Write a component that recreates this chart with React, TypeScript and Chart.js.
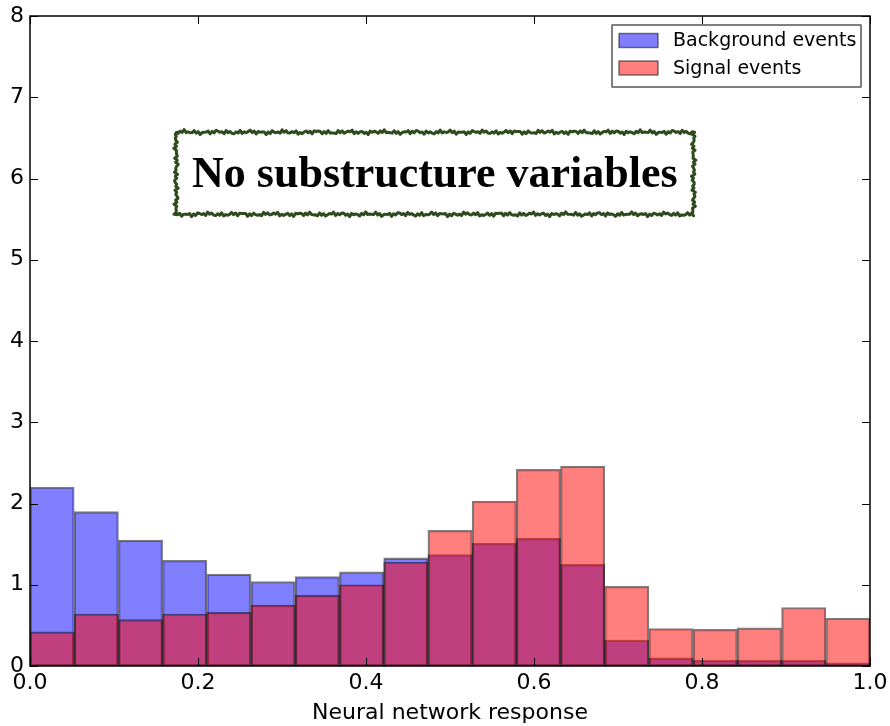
import React, { useEffect, useRef } from "react";
import { Chart, registerables } from "chart.js";

Chart.register(...registerables);

// Histogram: 19 equal bins over [0, 1]
const binCount = 19;
const xMin = 0;
const xMax = 1;
const binCenters = Array.from({ length: binCount }, (_, i) => xMin + ((i + 0.5) * (xMax - xMin)) / binCount);

const backgroundEvents = [2.20, 1.90, 1.55, 1.30, 1.13, 1.04, 1.10, 1.16, 1.33, 1.37, 1.51, 1.57, 1.25, 0.32, 0.10, 0.07, 0.07, 0.07, 0.04];
const signalEvents = [0.42, 0.64, 0.57, 0.64, 0.66, 0.75, 0.87, 1.00, 1.28, 1.67, 2.03, 2.42, 2.46, 0.98, 0.46, 0.45, 0.47, 0.72, 0.59];

const seriesLabels = ["Background events", "Signal events"];
const xTicks = [0, 0.2, 0.4, 0.6, 0.8, 1.0];
const yTicks = [0, 1, 2, 3, 4, 5, 6, 7, 8];
const xTitle = "Neural network response";
const annotationText = "No substructure variables";

const BLUE = "rgba(0,0,255,0.5)";
const RED = "rgba(255,0,0,0.5)";
const EDGE = "rgba(0,0,0,0.5)";
const TICK_FONT = "DejaVu Sans";

const framePlugin = {
  id: "framePlugin",
  afterDraw(chart: any) {
    const ctx = chart.ctx as CanvasRenderingContext2D;
    const { left, right, top, bottom } = chart.chartArea;
    const xs = chart.scales.x;
    const ys = chart.scales.y;
    ctx.save();

    // inward ticks on all four sides
    ctx.strokeStyle = "#000";
    ctx.lineWidth = 1;
    const tl = 8;
    xTicks.forEach((v) => {
      const px = Math.round(xs.getPixelForValue(v)) + 0.5;
      ctx.beginPath();
      ctx.moveTo(px, bottom);
      ctx.lineTo(px, bottom - tl);
      ctx.moveTo(px, top);
      ctx.lineTo(px, top + tl);
      ctx.stroke();
    });
    yTicks.forEach((v) => {
      const py = Math.round(ys.getPixelForValue(v)) + 0.5;
      ctx.beginPath();
      ctx.moveTo(left, py);
      ctx.lineTo(left + tl, py);
      ctx.moveTo(right, py);
      ctx.lineTo(right - tl, py);
      ctx.stroke();
    });

    // spines
    ctx.lineWidth = 1.5;
    ctx.strokeRect(left, top, right - left, bottom - top);

    // annotation box (wobbly border)
    const cx = xs.getPixelForValue(0.482);
    const cy = ys.getPixelForValue(6.03);
    const bx0 = xs.getPixelForValue(0.174);
    const bx1 = xs.getPixelForValue(0.790);
    const by0 = ys.getPixelForValue(6.57);
    const by1 = ys.getPixelForValue(5.56);
    ctx.fillStyle = "#fff";
    ctx.fillRect(bx0, by0, bx1 - bx0, by1 - by0);
    const wob = (i: number) => 1.3 * Math.sin(i * 2.7) + 0.8 * Math.sin(i * 1.13 + 0.5) + 0.5 * Math.sin(i * 5.9);
    ctx.strokeStyle = "#2f4a1c";
    ctx.lineWidth = 3;
    ctx.lineJoin = "round";
    ctx.beginPath();
    let k = 0;
    const step = 2;
    for (let x = bx0; x <= bx1; x += step) { const y = by0 + wob(k++); x === bx0 ? ctx.moveTo(x, y) : ctx.lineTo(x, y); }
    for (let y = by0; y <= by1; y += step) ctx.lineTo(bx1 + wob(k++), y);
    for (let x = bx1; x >= bx0; x -= step) ctx.lineTo(x, by1 + wob(k++));
    for (let y = by1; y >= by0; y -= step) ctx.lineTo(bx0 + wob(k++), y);
    ctx.closePath();
    ctx.stroke();

    ctx.fillStyle = "#000";
    ctx.textAlign = "center";
    ctx.textBaseline = "middle";
    ctx.font = "bold 40px 'Liberation Serif', 'DejaVu Serif', serif";
    const w40 = ctx.measureText(annotationText).width;
    const fs = 40 * (486 / w40);
    ctx.font = `bold ${fs.toFixed(1)}px 'Liberation Serif', 'DejaVu Serif', serif`;
    ctx.fillText(annotationText, cx, cy);

    // legend
    const lx0 = 612, ly0 = 25, lx1 = 861, ly1 = 87;
    ctx.fillStyle = "#fff";
    ctx.fillRect(lx0, ly0, lx1 - lx0, ly1 - ly0);
    ctx.strokeStyle = "#555";
    ctx.lineWidth = 1.5;
    ctx.strokeRect(lx0, ly0, lx1 - lx0, ly1 - ly0);
    const patchColors = [BLUE, RED];
    const rows = [40.5, 68];
    ctx.font = `19px '${TICK_FONT}'`;
    ctx.textAlign = "left";
    seriesLabels.forEach((lab, i) => {
      const ry = rows[i];
      ctx.fillStyle = "#fff";
      ctx.fillRect(619, ry - 7, 39, 14);
      ctx.fillStyle = patchColors[i];
      ctx.fillRect(619, ry - 7, 39, 14);
      ctx.strokeStyle = EDGE;
      ctx.lineWidth = 1.5;
      ctx.strokeRect(619, ry - 7, 39, 14);
      ctx.fillStyle = "#000";
      ctx.textBaseline = "middle";
      ctx.fillText(lab, 673, ry + 1);
    });

    ctx.restore();
  },
};

export default function App() {
  const ref = useRef<HTMLCanvasElement | null>(null);

  useEffect(() => {
    if (!ref.current) return;
    const chart = new Chart(ref.current, {
      type: "bar",
      data: {
        datasets: [
          {
            label: seriesLabels[0],
            data: binCenters.map((x, i) => ({ x, y: backgroundEvents[i] })),
            backgroundColor: BLUE,
            borderColor: EDGE,
            borderWidth: 1.5,
            borderSkipped: false,
            barPercentage: 1,
            categoryPercentage: 1,
            grouped: false,
            order: 1,
          },
          {
            label: seriesLabels[1],
            data: binCenters.map((x, i) => ({ x, y: signalEvents[i] })),
            backgroundColor: RED,
            borderColor: EDGE,
            borderWidth: 1.5,
            borderSkipped: false,
            barPercentage: 1,
            categoryPercentage: 1,
            grouped: false,
            order: 0,
          },
        ],
      } as any,
      options: {
        responsive: false,
        animation: false,
        devicePixelRatio: 1,
        layout: { padding: { left: 8, top: 16, right: 20, bottom: 0 } },
        plugins: { legend: { display: false }, tooltip: { enabled: false } },
        scales: {
          x: {
            type: "linear",
            min: xMin,
            max: xMax,
            offset: false,
            grid: { display: false, drawTicks: false, offset: false },
            border: { display: false },
            afterBuildTicks: (s: any) => { s.ticks = xTicks.map((v) => ({ value: v })); },
            afterFit: (s: any) => { s.paddingLeft = 0; s.paddingRight = 0; s.height = 60; },
            ticks: {
              autoSkip: false,
              maxRotation: 0,
              padding: 4,
              color: "#000",
              font: { family: TICK_FONT, size: 22 },
              callback: (v: any) => Number(v).toFixed(1),
            },
            title: {
              display: true,
              text: xTitle,
              color: "#000",
              font: { family: TICK_FONT, size: 22 },
              padding: { top: 0, bottom: 0 },
            },
          },
          y: {
            min: 0,
            max: 8,
            grid: { display: false, drawTicks: false },
            border: { display: false },
            afterBuildTicks: (s: any) => { s.ticks = yTicks.map((v) => ({ value: v })); },
            afterFit: (s: any) => { s.paddingTop = 0; s.paddingBottom = 0; s.width = 22; },
            ticks: {
              padding: 6,
              color: "#000",
              font: { family: TICK_FONT, size: 22 },
              callback: (v: any) => String(v),
            },
          },
        },
      } as any,
      plugins: [framePlugin],
    });
    return () => chart.destroy();
  }, []);

  return (
    <div style={{ position: "absolute", left: 0, top: 0, width: 890, height: 726, background: "#fff" }}>
      <canvas ref={ref} width={890} height={726} style={{ display: "block" }} />
    </div>
  );
}
